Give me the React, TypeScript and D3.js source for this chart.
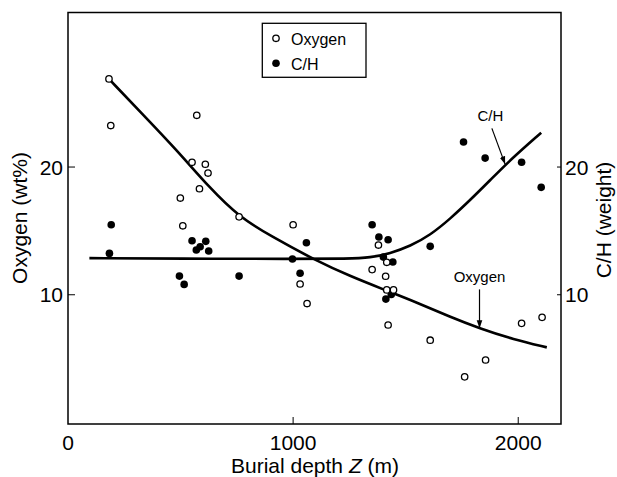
import React from "react";
import * as d3 from "d3";

// Scatter data (burial depth in m)
const oxygenDepth = [182, 190, 572, 551, 610, 622, 584, 499, 760, 510, 1000, 1031, 1062, 1379, 1351, 1416, 1411, 1416, 1446, 1422, 1609, 1762, 1855, 2015, 2106];
const oxygenValue = [26.9, 23.25, 24.05, 20.37, 20.22, 19.53, 18.3, 17.57, 16.1, 15.4, 15.48, 10.84, 9.31, 13.89, 11.97, 12.54, 11.45, 10.38, 10.38, 7.63, 6.44, 3.57, 4.89, 7.76, 8.23];

const chDepth = [192, 184, 551, 612, 587, 570, 625, 495, 516, 760, 997, 1059, 1031, 1351, 1381, 1422, 1401, 1443, 1412, 1436, 1609, 1757, 1853, 2015, 2102];
const chValue = [15.48, 13.24, 14.23, 14.18, 13.76, 13.5, 13.42, 11.46, 10.81, 11.46, 12.8, 14.07, 11.68, 15.48, 14.52, 14.31, 12.95, 12.56, 9.66, 10.02, 13.79, 21.96, 20.7, 20.37, 18.41];

// Fitted trend curves
const oxygenCurveDepth = [187, 335, 483, 631, 760, 900, 1105, 1253, 1401, 1550, 1698, 1831, 1979, 2127];
const oxygenCurveValue = [26.8, 24.07, 21.33, 18.33, 16.1, 14.6, 12.64, 11.46, 10.42, 9.4, 8.25, 7.35, 6.5, 5.88];

const chCurveDepth = [95, 500, 1000, 1250, 1342, 1431, 1520, 1609, 1698, 1787, 1876, 1964, 2102];
const chCurveValue = [12.87, 12.83, 12.8, 12.82, 12.9, 13.24, 13.81, 14.67, 15.95, 17.42, 18.98, 20.55, 22.69];

const xTicks = [0, 1000, 2000];
const yTicks = [10, 20];

const W = 617;
const H = 477;
const FONT = "'Liberation Sans', Arial, Helvetica, sans-serif";

export default function App() {
  const x = d3.scaleLinear().domain([0, 2190]).range([68, 561]);
  const y = d3.scaleLinear().domain([-0.12, 32.1]).range([424, 12.5]);

  const line = d3
    .line<[number, number]>()
    .x((d) => x(d[0]))
    .y((d) => y(d[1]))
    .curve(d3.curveBasis);

  const oxCurve = line(oxygenCurveDepth.map((d, i) => [d, oxygenCurveValue[i]]));
  const chCurve = line(chCurveDepth.map((d, i) => [d, chCurveValue[i]]));

  const [x0, x1] = x.range();
  const [yb, yt] = y.range();

  return (
    <svg
      width={W}
      height={H}
      viewBox={`0 0 ${W} ${H}`}
      style={{ position: "absolute", left: 0, top: 0, background: "#fff" }}
      fontFamily={FONT}
    >
      <defs>
        <marker id="arrow" viewBox="0 0 10 10" refX="10" refY="5" markerWidth="8" markerHeight="8" markerUnits="userSpaceOnUse" orient="auto">
          <path d="M0,1.5 L10,5 L0,8.5 Z" fill="#000" />
        </marker>
      </defs>
      <rect x={0} y={0} width={W} height={H} fill="#fff" />

      {/* frame */}
      <rect x={x0} y={yt} width={x1 - x0} height={yb - yt} fill="none" stroke="#000" strokeWidth={1.5} />

      {/* x ticks */}
      {xTicks.map((t) => (
        <g key={"xt" + t}>
          {t > 0 && <line x1={x(t)} x2={x(t)} y1={yb} y2={yb - 7} stroke="#000" strokeWidth={1} />}
          <text x={x(t)} y={450} textAnchor="middle" fontSize={21}>
            {t}
          </text>
        </g>
      ))}

      {/* y ticks left and right */}
      {yTicks.map((t) => (
        <g key={"yt" + t}>
          <line x1={x0} x2={x0 + 7} y1={y(t)} y2={y(t)} stroke="#000" strokeWidth={1} />
          <line x1={x1} x2={x1 - 4} y1={y(t)} y2={y(t)} stroke="#000" strokeWidth={1} />
          <text x={63} y={y(t) + 7.5} textAnchor="end" fontSize={21}>
            {t}
          </text>
          <text x={565} y={y(t) + 7.5} textAnchor="start" fontSize={21}>
            {t}
          </text>
        </g>
      ))}

      {/* axis titles */}
      <text x={315} y={473} textAnchor="middle" fontSize={21}>
        Burial depth <tspan fontStyle="italic">Z</tspan> (m)
      </text>
      <text transform="translate(27,218) rotate(-90)" textAnchor="middle" fontSize={21}>
        Oxygen (wt%)
      </text>
      <text transform="translate(611,220) rotate(-90)" textAnchor="middle" fontSize={21}>
        C/H (weight)
      </text>

      {/* curves */}
      <path d={chCurve || ""} fill="none" stroke="#000" strokeWidth={2.6} />
      <path d={oxCurve || ""} fill="none" stroke="#000" strokeWidth={2.6} />

      {/* points */}
      {chDepth.map((d, i) => (
        <circle key={"c" + i} cx={x(d)} cy={y(chValue[i])} r={3.8} fill="#000" />
      ))}
      {oxygenDepth.map((d, i) => (
        <circle key={"o" + i} cx={x(d)} cy={y(oxygenValue[i])} r={3.2} fill="#fff" stroke="#000" strokeWidth={1.3} />
      ))}

      {/* annotations */}
      <text x={x(1876)} y={y(23.63)} textAnchor="middle" fontSize={15}>
        C/H
      </text>
      <line x1={x(1883)} y1={y(23.03)} x2={x(1942)} y2={y(20.21)} stroke="#000" strokeWidth={1.2} markerEnd="url(#arrow)" />
      <text x={x(1828)} y={y(11.02)} textAnchor="middle" fontSize={15}>
        Oxygen
      </text>
      <line x1={x(1828)} y1={y(10.42)} x2={x(1828)} y2={y(7.37)} stroke="#000" strokeWidth={1.2} markerEnd="url(#arrow)" />

      {/* legend */}
      <rect x={262.3} y={23.3} width={103.7} height={54} fill="#fff" stroke="#000" strokeWidth={1.3} />
      <circle cx={276} cy={38.3} r={3.2} fill="#fff" stroke="#000" strokeWidth={1.3} />
      <text x={291} y={44.5} fontSize={16}>
        Oxygen
      </text>
      <circle cx={276} cy={63.3} r={3.8} fill="#000" />
      <text x={291} y={69.5} fontSize={16}>
        C/H
      </text>
    </svg>
  );
}
